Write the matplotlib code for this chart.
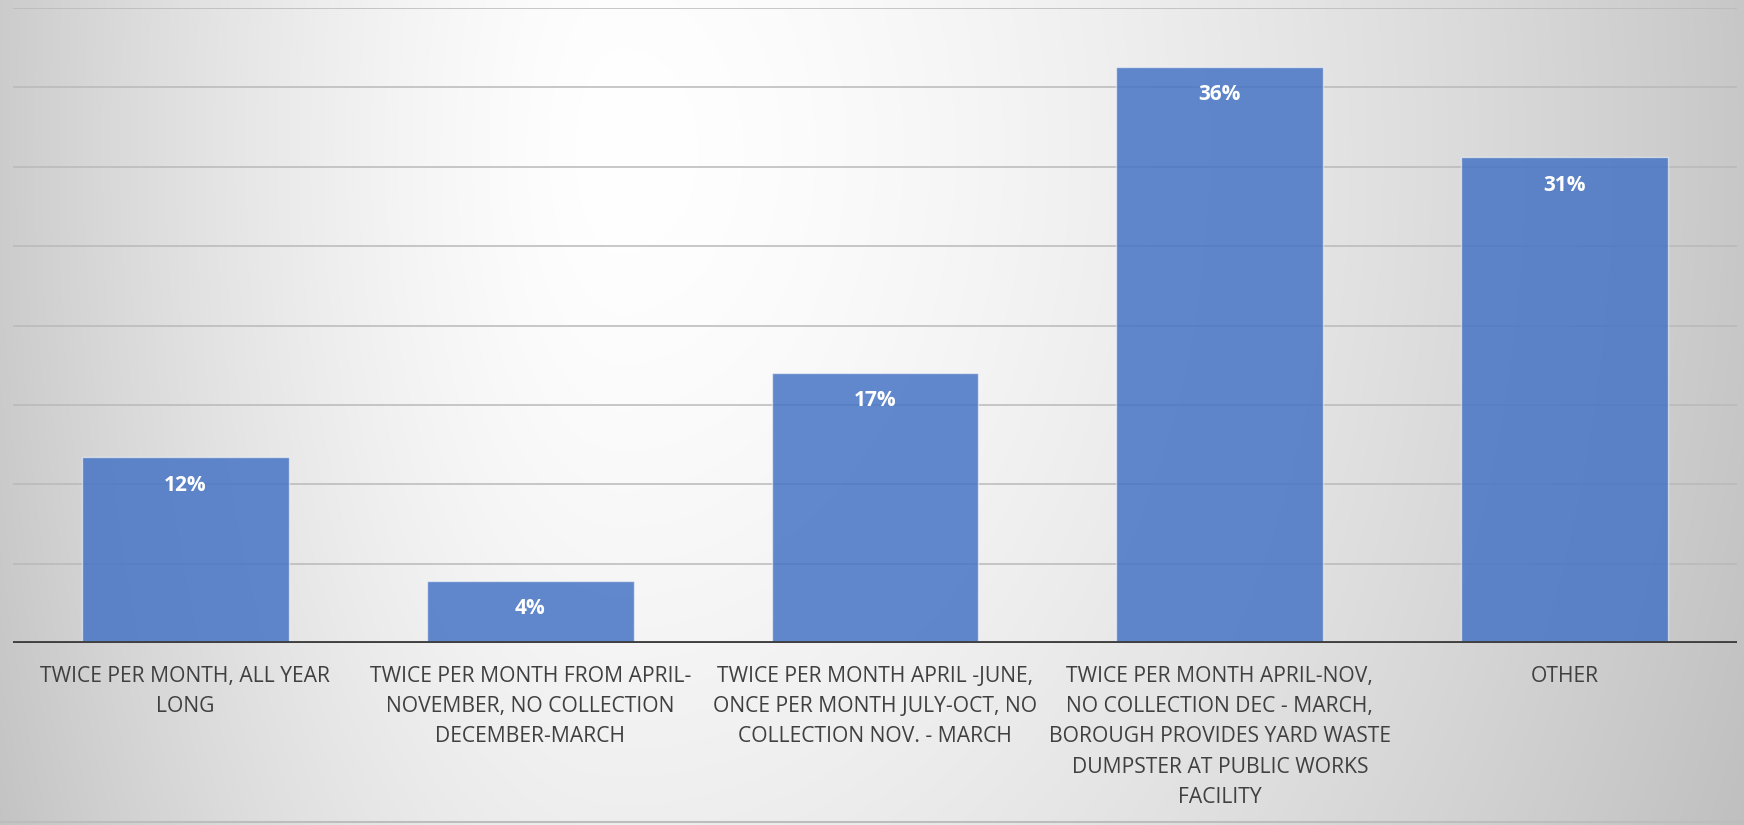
import numpy as np
import matplotlib
matplotlib.use("Agg")
import matplotlib.pyplot as plt

# ---- data ----
categories = [
    "TWICE PER MONTH, ALL YEAR\nLONG",
    "TWICE PER MONTH FROM APRIL-\nNOVEMBER, NO COLLECTION\nDECEMBER-MARCH",
    "TWICE PER MONTH APRIL -JUNE,\nONCE PER MONTH JULY-OCT, NO\nCOLLECTION NOV. - MARCH",
    "TWICE PER MONTH APRIL-NOV,\nNO COLLECTION DEC - MARCH,\nBOROUGH PROVIDES YARD WASTE\nDUMPSTER AT PUBLIC WORKS\nFACILITY",
    "OTHER",
]
values = [11.7, 3.9, 17.0, 36.3, 30.6]  # percent
y_max = 40
grid_step = 5

plt.rcParams["font.family"] = ["Open Sans", "DejaVu Sans"]

W, H, DPI = 1744, 825, 100
fig = plt.figure(figsize=(W / DPI, H / DPI), dpi=DPI)

# background gradient
bg = fig.add_axes([0, 0, 1, 1], zorder=-10)
yy, xx = np.mgrid[0:H, 0:W].astype(float)
cx, cy = 620.0, 150.0
sx = np.where(xx < cx, 700.0, 1200.0)
sy = 1600.0
r = np.sqrt(((xx - cx) / sx) ** 2 + ((yy - cy) / sy) ** 2)
v = 1 - 0.24 * r ** 1.5
v = np.clip(v, 0.72, 1.0)
img = np.dstack([v, v, v])
bg.imshow(img, extent=[0, W, H, 0], aspect="auto", interpolation="bilinear")
bg.set_xlim(0, W)
bg.set_ylim(H, 0)
bg.axis("off")
bg.plot([0, W], [822, 822], color="#bdbdbd", lw=1.5)

left, right = 13 / W, 1737 / W
bottom, top = (H - 643) / H, (H - 8) / H
ax = fig.add_axes([left, bottom, right - left, top - bottom], zorder=1)
ax.set_facecolor("none")

x = np.arange(len(categories))
for g in np.arange(grid_step, y_max + 0.01, grid_step):
    ax.axhline(g, color="#b9b9b9", lw=1.1, zorder=1)

face = (0x44 / 255, 0x72 / 255, 0xC4 / 255, 0.84)
bars = ax.bar(x, values, width=0.6, color=face, edgecolor=(1, 1, 1, 0.55), linewidth=1.0, zorder=2)
ax.axhline(0, color="#404040", lw=2.8, zorder=3)

for xi, val in zip(x, values):
    ax.annotate(f"{val:.0f}%", (xi, val), xytext=(0, -20), textcoords="offset points",
                ha="center", va="center", color="white", fontsize=15, fontweight="bold", zorder=4)

ax.set_xlim(-0.5, len(categories) - 0.5)
ax.set_ylim(0, y_max)
ax.set_xticks(x)
ax.set_xticklabels(categories, fontsize=15.2, color="#404040", linespacing=1.58)
ax.tick_params(axis="x", length=0, pad=16.5)
ax.set_yticks([])
for s in ax.spines.values():
    s.set_visible(False)

fig.savefig("out.png", dpi=DPI)
